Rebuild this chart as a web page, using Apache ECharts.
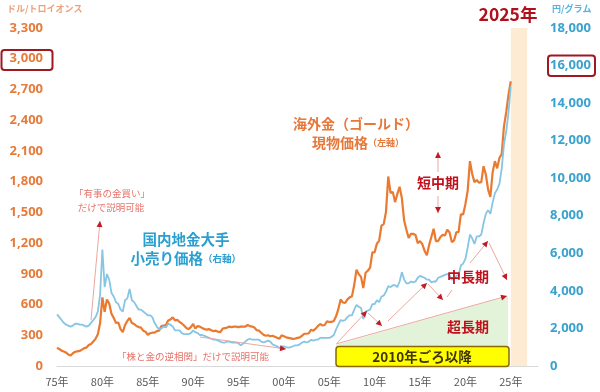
<!DOCTYPE html>
<html><head><meta charset="utf-8">
<script src="https://cdn.jsdelivr.net/npm/echarts@6/dist/echarts.min.js"></script>
<style>html,body{margin:0;padding:0;background:#fff}#c{width:600px;height:392px}</style>
</head><body><div id="c"></div>
<script>
// quarterly samples starting 1975.0
const startYear = 1975;
const step = 0.25;
const xLabelYears = [1975,1980,1985,1990,1995,2000,2005,2010,2015,2020,2025];
// 海外金 現物価格 (USD/troy oz)
const goldUsd = [
 178,166,150,141, 131,112,103,125, 139,143,147,160, 175,180,205,215, 240,265,310,420,
 670,530,650,610, 510,470,420,425, 360,330,400,440, 470,420,410,390, 380,375,345,335,
 305,320,325,325, 340,345,390,395, 400,445,455,475, 445,450,430,415, 395,370,360,380,
 410,365,390,385, 370,360,355,360, 350,340,345,335, 330,365,370,375, 385,380,385,385,
 380,385,385,385, 400,390,385,375, 350,345,325,305, 295,300,290,295, 285,275,265,300,
 290,280,275,270, 265,268,275,280, 295,315,315,320, 355,345,365,390, 410,395,400,435,
 430,430,440,485, 555,650,620,615, 650,670,680,790, 940,895,870,760, 910,930,960,1110,
 1110,1195,1225,1370, 1385,1505,1850,1690, 1700,1600,1680,1750, 1640,1420,1330,1250,
 1290,1290,1280,1200, 1220,1190,1125,1080, 1180,1260,1340,1220, 1220,1260,1280,1275,
 1330,1305,1210,1225, 1305,1310,1480,1480, 1580,1710,2000,1875, 1795,1815,1790,1795,
 1950,1870,1725,1650, 1890,2000,1930,2030, 2070,2340,2480,2650, 2780
];
// 国内地金大手 小売り価格 (円/グラム)
const goldJpy = [
 2750,2600,2450,2300, 2200,2150,2100,2150, 2250,2250,2200,2200, 2150,2100,2150,2300, 2450,2600,2900,3800,
 6200,4200,4900,4600, 3900,3700,3400,3300, 3000,2900,3500,3600, 4100,3500,3400,3200, 3000,3000,2900,2800,
 2700,2700,2600,2300, 2100,1950,2000,2100, 2050,2250,2200,2100, 1900,1900,1900,1750, 1700,1700,1700,1750,
 1900,1800,1750,1650, 1650,1600,1550,1500, 1450,1400,1400,1350, 1300,1250,1250,1300, 1300,1250,1250,1250,
 1200,1100,1200,1300, 1400,1450,1400,1400, 1400,1400,1300,1250, 1300,1350,1300,1150, 1100,1050,950,1050,
 1050,1000,980,1000, 1050,1100,1100,1150, 1250,1300,1250,1300, 1400,1350,1400,1400, 1500,1500,1500,1500,
 1500,1550,1650,1950, 2200,2450,2400,2450, 2600,2700,2700,3000, 3250,3150,3100,2500, 2900,2950,3000,3300,
 3300,3500,3400,3700, 3750,3950,4250,4200, 4300,4300,4200,4500, 5000,4600,4400,4400,
 4500,4450,4500,4700, 4800,4750,4700,4600, 4600,4450,4500,4500, 4700,4750,4800,4850,
 4900,4850,4600,4600, 4800,4850,5350,5450, 5700,6300,7000,6800, 6500,6900,6900,7000,
 7600,8100,8300,8100, 8700,9200,9400,9700, 10500,11800,12500,13500, 14900
];

const FONT = "'Noto Sans CJK JP', 'Noto Sans', sans-serif";
const chart = echarts.init(document.getElementById('c'), null, {renderer:'canvas'});

function txt(text, x, y, size, color, align, weight) {
  return {type:'text', z:50, style:{text:text, x:x, y:y, fill:color, font:(weight||'bold')+' '+size+'px '+FONT, textAlign:align||'center', textVerticalAlign:'middle'}};
}
function arrow(x1,y1,x2,y2,head){
  const out=[{type:'line', z:40, shape:{x1:x1,y1:y1,x2:x2,y2:y2}, style:{stroke:'#eba8a0', lineWidth:1}}];
  if(head!==false){
    const a=Math.atan2(y2-y1,x2-x1), L=6, W=3;
    const bx=x2-L*Math.cos(a), by=y2-L*Math.sin(a);
    const px=-Math.sin(a)*W, py=Math.cos(a)*W;
    out.push({type:'polygon', z:41, shape:{points:[[x2,y2],[bx+px,by+py],[bx-px,by-py]]}, style:{fill:'#c01c28'}});
  }
  return out;
}

const graphics = [].concat(
  [{type:'polygon', z:1, shape:{points:[[336,345],[508,296],[508,347],[336,347]]}, style:{fill:'#e3f3da'}}],
  arrow(91,320,100,221),
  arrow(200,337,286,349),
  arrow(337,343,367,311),
  arrow(368,313,382,326),
  arrow(388,321,427,283),
  arrow(428,284,443,300),
  arrow(470,263,488,241),
  arrow(489,243,507,280),
  arrow(336,344,507,296),
  arrow(447,297,452,290,false),
  arrow(438,172,438,152),
  arrow(438,196,438,213),
  [
   {type:'rect', z:45, shape:{x:336,y:346.5,width:173,height:20,r:3}, style:{fill:'#ffff00', stroke:'#8a6a00', lineWidth:1.5}},
   txt('2010年ごろ以降',422,357,13.5,'#3f3300'),
   {type:'rect', z:45, shape:{x:1.5,y:50,width:51,height:20,r:3}, style:{fill:'none', stroke:'#a01820', lineWidth:2}},
   {type:'rect', z:45, shape:{x:548,y:55.5,width:47,height:20.5,r:3}, style:{fill:'none', stroke:'#a01820', lineWidth:2}},
   txt('ドル/トロイオンス',7,9,9,'#e9a27a','left'),
   txt('円/グラム',552,9,9,'#5ab2da','left'),
   txt('2025年',508,14,17.5,'#b0101c'),
   txt('海外金（ゴールド）',356,124,14,'#e6783a'),
   txt('現物価格',368,143,14,'#e6783a','right'),
   txt('（左軸）',368,143,9,'#e6783a','left'),
   txt('国内地金大手',186,239,14.5,'#2a9fd0'),
   txt('小売り価格',203,258,14.5,'#2a9fd0','right'),
   txt('（右軸）',203,258,9.5,'#2a9fd0','left'),
   txt('「有事の金買い」',112,193,9.5,'#e8736a','center','normal'),
   txt('だけで説明可能',111,207,9.5,'#e8736a','center','normal'),
   txt('「株と金の逆相関」だけで説明可能',193,356,9.5,'#e8736a','center','normal'),
   txt('短中期',438,183,14,'#c0121c'),
   txt('中長期',468,277,14,'#c0121c'),
   txt('超長期',468,327,14,'#c0121c')
  ]
);

chart.setOption({
  animation:false,
  backgroundColor:'#fff',
  grid:{left:57, right:62, top:28, bottom:26, containLabel:false},
  xAxis:{type:'value', min:1975, max:2028, interval:5,
    axisLine:{show:true, lineStyle:{color:'#d9d9d9', width:1}},
    axisTick:{show:false},
    splitLine:{show:false},
    axisLabel:{customValues:xLabelYears, margin:10, color:'#595959', fontSize:11, fontFamily:FONT,
      formatter:function(v){ return String(v%100).padStart(2,'0')+'年'; }}
  },
  yAxis:[
    {type:'value', min:0, max:3300, interval:300, position:'left',
     axisLine:{show:false}, axisTick:{show:false}, splitLine:{show:false},
     axisLabel:{margin:14, color:'#e67c3c', fontSize:13, fontWeight:'bold', fontFamily:"'Noto Sans', sans-serif",
       formatter:function(v){return v.toLocaleString('en-US');}}},
    {type:'value', min:0, max:18000, interval:2000, position:'right',
     axisLine:{show:false}, axisTick:{show:false}, splitLine:{show:false},
     axisLabel:{margin:12, color:'#3aa2ce', fontSize:13, fontWeight:'bold', fontFamily:"'Noto Sans', sans-serif",
       formatter:function(v){return v.toLocaleString('en-US');}}}
  ],
  series:[
    {type:'line', name:'海外金', yAxisIndex:0, showSymbol:false, z:3,
     data:goldUsd.map(function(v,i){return [startYear+i*step, v];}),
     lineStyle:{color:'#ea7a30', width:2.2},
     markArea:{silent:true, itemStyle:{color:'#fdebd4'}, data:[[{xAxis:2025.0},{xAxis:2026.8}]]}
    },
    {type:'line', name:'国内', yAxisIndex:1, showSymbol:false, z:4,
     data:goldJpy.map(function(v,i){return [startYear+i*step, v];}),
     lineStyle:{color:'#86c6e4', width:1.8}
    }
  ],
  graphic:graphics
});
</script></body></html>
